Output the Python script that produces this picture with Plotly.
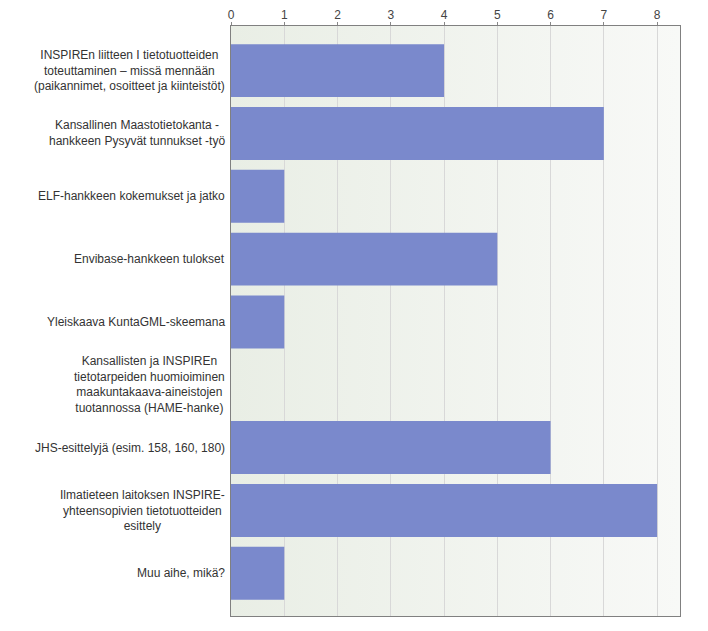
import base64
import plotly.graph_objects as go

categories = [
    "INSPIREn liitteen I tietotuotteiden<br>toteuttaminen – missä mennään<br>(paikannimet, osoitteet ja kiinteistöt)",
    "Kansallinen Maastotietokanta -<br>hankkeen Pysyvät tunnukset -työ",
    "ELF-hankkeen kokemukset ja jatko",
    "Envibase-hankkeen tulokset",
    "Yleiskaava KuntaGML-skeemana",
    "Kansallisten ja INSPIREn<br>tietotarpeiden huomioiminen<br>maakuntakaava-aineistojen<br>tuotannossa (HAME-hanke)",
    "JHS-esittelyjä (esim. 158, 160, 180)",
    "Ilmatieteen laitoksen INSPIRE-<br>yhteensopivien tietotuotteiden<br>esittely",
    "Muu aihe, mikä?",
]
values = [4, 7, 1, 5, 1, 0, 6, 8, 1]
tick_values = [0, 1, 2, 3, 4, 5, 6, 7, 8]

FONT = "Arial, Liberation Sans, sans-serif"

svg = (
    '<svg xmlns="http://www.w3.org/2000/svg" width="100" height="100" preserveAspectRatio="none">'
    '<defs><linearGradient id="g" x1="0" y1="0" x2="1" y2="0">'
    '<stop offset="0" stop-color="#e9eee5"/><stop offset="1" stop-color="#f8f9f7"/>'
    '</linearGradient></defs><rect width="100" height="100" fill="url(#g)"/></svg>'
)
bg_uri = "data:image/svg+xml;base64," + base64.b64encode(svg.encode()).decode()

fig = go.Figure()
fig.add_trace(go.Bar(
    x=values,
    y=categories,
    orientation="h",
    width=0.843,
    marker=dict(color="#7a89cc", line=dict(width=0)),
    hoverinfo="x+y",
))

annotations = []
for c in categories:
    annotations.append(dict(
        x=0, xref="paper", y=c, yref="y",
        text=c, showarrow=False, xanchor="right", yanchor="middle",
        align="center", xshift=-4,
        font=dict(family=FONT, size=12, color="#333333"),
    ))

fig.update_layout(
    width=700, height=623,
    margin=dict(l=223, r=28, t=18, b=15, pad=0, autoexpand=False),
    paper_bgcolor="white",
    plot_bgcolor="#f0f3ee",
    showlegend=False,
    annotations=annotations,
    images=[dict(
        source=bg_uri, xref="paper", yref="paper", x=0, y=1,
        sizex=1, sizey=1, sizing="stretch", layer="below", xanchor="left", yanchor="top",
    )],
    xaxis=dict(
        side="top", range=[0, 8.43], tickmode="array", tickvals=tick_values,
        showgrid=True, gridcolor="#d8d8d8", gridwidth=1,
        showline=True, linecolor="#808080", linewidth=1, mirror=True,
        ticks="outside", ticklen=3, tickcolor="#888888",
        ticklabelstandoff=-2,
        tickfont=dict(family=FONT, size=12, color="#444444"),
        zeroline=False, fixedrange=True, automargin=False,
    ),
    yaxis=dict(
        type="category", categoryorder="array", categoryarray=categories,
        range=[8.68, -0.71], showticklabels=False, showgrid=False,
        showline=True, linecolor="#808080", linewidth=1, mirror=True,
        ticks="", zeroline=False, fixedrange=True, automargin=False,
    ),
)

fig.write_html("out.html")
